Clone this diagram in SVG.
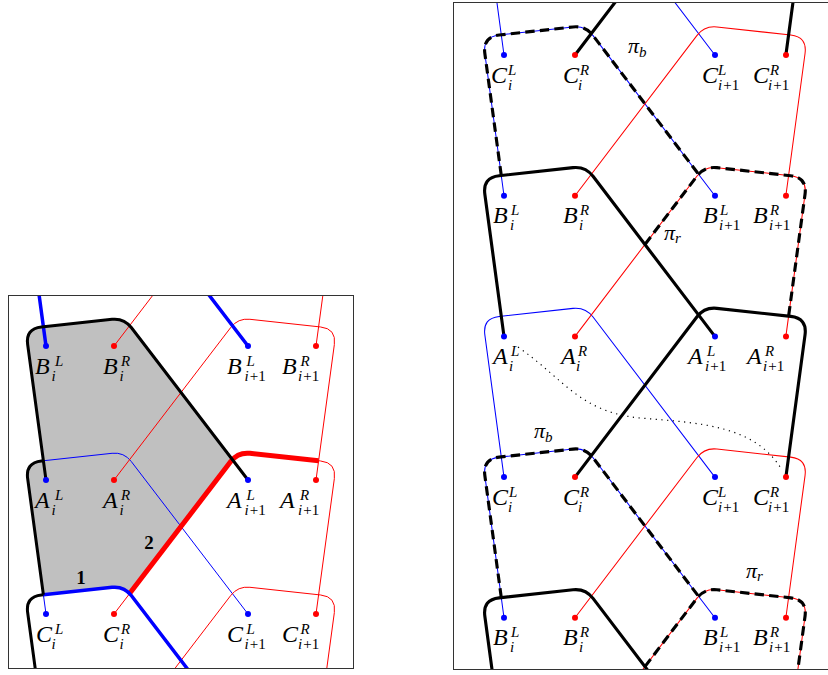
<svg xmlns="http://www.w3.org/2000/svg" xmlns:xlink="http://www.w3.org/1999/xlink" width="828" height="675" viewBox="0 0 828 675">
<style>
.tnb{fill:none;stroke:#0000ff;stroke-width:1}
.tnr{fill:none;stroke:#ff0000;stroke-width:1}
.blk{fill:none;stroke:#000;stroke-width:3;stroke-linejoin:round}
.tb{fill:none;stroke:#0000ff;stroke-width:3.5;stroke-linejoin:round}
.tr{fill:none;stroke:#ff0000;stroke-width:5;stroke-linejoin:round}
.dsh{fill:none;stroke:#000;stroke-width:3;stroke-dasharray:9 5}
.dotted{fill:none;stroke:#000;stroke-width:1.2;stroke-dasharray:1.2 4.5}
.gray{fill:#c0c0c0;stroke:none}
.frame{fill:none;stroke:#333;stroke-width:1}
.db{fill:#0000ff}
.dr{fill:#ff0000}
.lb{font-family:"Liberation Serif",serif;font-style:italic;font-size:24px;fill:#000}
.s{font-size:15px}
.up{font-style:normal}
.pi{font-size:22px}
.num{font-family:"Liberation Serif",serif;font-weight:bold;font-size:19px;text-anchor:middle}
</style>
<defs>
<clipPath id="clipL"><rect x="8.5" y="295.5" width="345" height="373"/></clipPath>
<clipPath id="clipR"><rect x="453.5" y="2.5" width="380" height="667"/></clipPath>
<path id="bcell" d="M 0,134 L -18.35,-1.445 Q -20.5,-17.3 -4.594,-19.03 L 66.07,-26.704 Q 78,-28 85.294,-18.471 L 202,134"/>
<path id="rcell" d="M 270,134 L 288.35,-1.445 Q 290.5,-17.3 274.594,-19.03 L 203.93,-26.704 Q 192,-28 184.706,-18.471 L 68,134"/>
<path id="pib" d="M -2.6,114.75 L -18.35,-1.445 Q -20.5,-17.3 -4.594,-19.03 L 66.07,-26.704 Q 78,-28 85.294,-18.471 L 186.4,113.6"/>
<path id="pir" d="M 135,46.47 L 184.706,-18.471 Q 192,-28 203.93,-26.704 L 274.594,-19.03 Q 290.5,-17.3 288.35,-1.445 L 272.6,114.75"/>
</defs>
<rect x="0" y="0" width="828" height="675" fill="#fff"/>

<!-- LEFT PANEL -->
<g id="left-connectors" clip-path="url(#clipL)">
<g transform="translate(46,346)">
<path class="gray" d="M -2.6,114.75 L -18.35,-1.445 Q -20.5,-17.3 -4.594,-19.03 L 66.07,-26.704 Q 78,-28 85.294,-18.471 L 186.4,113.6 Q 185.51,114.48 184.706,115.529 L 83.6,247.6 Q 76.69,240.14 66.07,241.296 L -2.6,248.75 L -18.35,132.555 Q -20.5,116.7 -4.594,114.97 Z"/>
<use href="#bcell" class="tnb" y="-134"/>
<use href="#bcell" class="tnb" y="0"/>
<use href="#bcell" class="tnb" y="134"/>
<use href="#bcell" class="tnb" y="268"/>
<use href="#rcell" class="tnr" y="-134"/>
<use href="#rcell" class="tnr" y="0"/>
<use href="#rcell" class="tnr" y="134"/>
<use href="#rcell" class="tnr" y="268"/>
<path class="tr" d="M 83.6,247.6 L 184.706,115.529 Q 192,106 203.93,107.296 L 272.6,114.75"/>
<use href="#bcell" class="tb" y="-134"/>
<path class="tb" d="M -2.6,248.75 L 66.07,241.296 Q 78,240 85.294,249.529 L 202,402"/>
<use href="#bcell" class="blk" y="0"/>
<path class="blk" d="M -2.6,248.75 L -18.35,132.555 Q -20.5,116.7 -4.594,114.97 L -2.6,114.75"/>
<path class="blk" d="M -2.6,248.75 L -4.594,248.97 Q -20.5,250.7 -18.35,266.555 L 0,402"/>
</g>
</g>
<rect class="frame" x="8.5" y="295.5" width="345" height="373"/>
<text class="num" x="81" y="584">1</text>
<text class="num" x="149" y="549">2</text>

<g id="l-BiL"><circle class="db" cx="46" cy="346" r="3"/><text class="lb" x="35" y="374">B<tspan class="s" x="55" y="366">L</tspan><tspan class="s" x="51.5" y="381">i</tspan></text></g>
<g id="l-BiR"><circle class="dr" cx="114" cy="346" r="3"/><text class="lb" x="103" y="374">B<tspan class="s" x="121" y="366">R</tspan><tspan class="s" x="119.5" y="381">i</tspan></text></g>
<g id="l-Bi1L"><circle class="db" cx="248" cy="346" r="3"/><text class="lb" x="227" y="374">B<tspan class="s" x="246.5" y="366">L</tspan><tspan class="s" x="244.5" y="381">i<tspan class="up" dx="1">+1</tspan></tspan></text></g>
<g id="l-Bi1R"><circle class="dr" cx="316" cy="346" r="3"/><text class="lb" x="282" y="374">B<tspan class="s" x="300.5" y="366">R</tspan><tspan class="s" x="298" y="381">i<tspan class="up" dx="1">+1</tspan></tspan></text></g>

<g id="l-AiL"><circle class="db" cx="46" cy="480" r="3"/><text class="lb" x="35" y="508">A<tspan class="s" x="55" y="500">L</tspan><tspan class="s" x="51.5" y="515">i</tspan></text></g>
<g id="l-AiR"><circle class="dr" cx="114" cy="480" r="3"/><text class="lb" x="103" y="508">A<tspan class="s" x="121" y="500">R</tspan><tspan class="s" x="119.5" y="515">i</tspan></text></g>
<g id="l-Ai1L"><circle class="db" cx="248" cy="480" r="3"/><text class="lb" x="227" y="508">A<tspan class="s" x="246.5" y="500">L</tspan><tspan class="s" x="244.5" y="515">i<tspan class="up" dx="1">+1</tspan></tspan></text></g>
<g id="l-Ai1R"><circle class="dr" cx="316" cy="480" r="3"/><text class="lb" x="280" y="508">A<tspan class="s" x="300" y="500">R</tspan><tspan class="s" x="298" y="515">i<tspan class="up" dx="1">+1</tspan></tspan></text></g>

<g id="l-CiL"><circle class="db" cx="46" cy="614" r="3"/><text class="lb" x="36" y="642">C<tspan class="s" x="55" y="634">L</tspan><tspan class="s" x="51.5" y="649">i</tspan></text></g>
<g id="l-CiR"><circle class="dr" cx="114" cy="614" r="3"/><text class="lb" x="103" y="642">C<tspan class="s" x="121" y="634">R</tspan><tspan class="s" x="119.5" y="649">i</tspan></text></g>
<g id="l-Ci1L"><circle class="db" cx="248" cy="614" r="3"/><text class="lb" x="227" y="642">C<tspan class="s" x="246.5" y="634">L</tspan><tspan class="s" x="244.5" y="649">i<tspan class="up" dx="1">+1</tspan></tspan></text></g>
<g id="l-Ci1R"><circle class="dr" cx="316" cy="614" r="3"/><text class="lb" x="282" y="642">C<tspan class="s" x="300.5" y="634">R</tspan><tspan class="s" x="298" y="649">i<tspan class="up" dx="1">+1</tspan></tspan></text></g>

<!-- RIGHT PANEL -->
<g id="right-connectors" clip-path="url(#clipR)">
<g transform="translate(504,55) scale(1.044,1.05)">
<use href="#bcell" class="tnb" y="-134"/>
<use href="#bcell" class="tnb" y="0"/>
<use href="#bcell" class="tnb" y="134"/>
<use href="#bcell" class="tnb" y="268"/>
<use href="#bcell" class="tnb" y="402"/>
<use href="#bcell" class="tnb" y="536"/>
<use href="#rcell" class="tnr" y="-134"/>
<use href="#rcell" class="tnr" y="0"/>
<use href="#rcell" class="tnr" y="134"/>
<use href="#rcell" class="tnr" y="268"/>
<use href="#rcell" class="tnr" y="402"/>
<use href="#rcell" class="tnr" y="536"/>
<use href="#rcell" class="blk" y="-134"/>
<use href="#bcell" class="blk" y="134"/>
<use href="#rcell" class="blk" y="268"/>
<use href="#bcell" class="blk" y="536"/>
<use href="#pib" class="dsh" y="0"/>
<use href="#pir" class="dsh" y="134"/>
<use href="#pib" class="dsh" y="402"/>
<use href="#pir" class="dsh" y="536"/>
</g>
<path class="dotted" d="M 518,347 C 565,380 580,412 640,418 C 700,423 755,425 782,470"/>
</g>
<rect class="frame" x="453.5" y="2.5" width="380" height="667"/>

<text class="lb pi" x="628" y="53">π<tspan class="s" y="57">b</tspan></text>
<text class="lb pi" x="534" y="438">π<tspan class="s" y="442">b</tspan></text>
<text class="lb pi" x="664" y="240">π<tspan class="s" y="243">r</tspan></text>
<text class="lb pi" x="746" y="578">π<tspan class="s" y="581">r</tspan></text>

<g id="r-CiL-top"><circle class="db" cx="504" cy="55" r="3"/><text class="lb" x="491" y="82.5">C<tspan class="s" x="508" y="74.5">L</tspan><tspan class="s" x="508" y="89.5">i</tspan></text></g>
<g id="r-CiR-top"><circle class="dr" cx="575" cy="55" r="3"/><text class="lb" x="563" y="82.5">C<tspan class="s" x="580" y="74.5">R</tspan><tspan class="s" x="578" y="89.5">i</tspan></text></g>
<g id="r-Ci1L-top"><circle class="db" cx="715" cy="55" r="3"/><text class="lb" x="702" y="82.5">C<tspan class="s" x="718" y="74.5">L</tspan><tspan class="s" x="718" y="89.5">i<tspan class="up" dx="1">+1</tspan></tspan></text></g>
<g id="r-Ci1R-top"><circle class="dr" cx="786" cy="55" r="3"/><text class="lb" x="753" y="82.5">C<tspan class="s" x="770" y="74.5">R</tspan><tspan class="s" x="768" y="89.5">i<tspan class="up" dx="1">+1</tspan></tspan></text></g>

<g id="r-BiL-top"><circle class="db" cx="504" cy="195.7" r="3"/><text class="lb" x="493" y="223">B<tspan class="s" x="511" y="215">L</tspan><tspan class="s" x="510" y="230">i</tspan></text></g>
<g id="r-BiR-top"><circle class="dr" cx="575" cy="195.7" r="3"/><text class="lb" x="563" y="223">B<tspan class="s" x="580" y="215">R</tspan><tspan class="s" x="579" y="230">i</tspan></text></g>
<g id="r-Bi1L-top"><circle class="db" cx="715" cy="195.7" r="3"/><text class="lb" x="703" y="223">B<tspan class="s" x="720" y="215">L</tspan><tspan class="s" x="719" y="230">i<tspan class="up" dx="1">+1</tspan></tspan></text></g>
<g id="r-Bi1R-top"><circle class="dr" cx="786" cy="195.7" r="3"/><text class="lb" x="753" y="223">B<tspan class="s" x="770" y="215">R</tspan><tspan class="s" x="769" y="230">i<tspan class="up" dx="1">+1</tspan></tspan></text></g>

<g id="r-AiL"><circle class="db" cx="504" cy="336.4" r="3"/><text class="lb" x="493" y="364">A<tspan class="s" x="511" y="356">L</tspan><tspan class="s" x="509" y="371">i</tspan></text></g>
<g id="r-AiR"><circle class="dr" cx="575" cy="336.4" r="3"/><text class="lb" x="561" y="364">A<tspan class="s" x="578" y="356">R</tspan><tspan class="s" x="576" y="371">i</tspan></text></g>
<g id="r-Ai1L"><circle class="db" cx="715" cy="336.4" r="3"/><text class="lb" x="688" y="364">A<tspan class="s" x="707" y="356">L</tspan><tspan class="s" x="705" y="371">i<tspan class="up" dx="1">+1</tspan></tspan></text></g>
<g id="r-Ai1R"><circle class="dr" cx="786" cy="336.4" r="3"/><text class="lb" x="747" y="364">A<tspan class="s" x="765" y="356">R</tspan><tspan class="s" x="763" y="371">i<tspan class="up" dx="1">+1</tspan></tspan></text></g>

<g id="r-CiL-low"><circle class="db" cx="504" cy="477.1" r="3"/><text class="lb" x="492" y="504.5">C<tspan class="s" x="509" y="496.5">L</tspan><tspan class="s" x="508" y="511.5">i</tspan></text></g>
<g id="r-CiR-low"><circle class="dr" cx="575" cy="477.1" r="3"/><text class="lb" x="563" y="504.5">C<tspan class="s" x="580" y="496.5">R</tspan><tspan class="s" x="578" y="511.5">i</tspan></text></g>
<g id="r-Ci1L-low"><circle class="db" cx="715" cy="477.1" r="3"/><text class="lb" x="702" y="504.5">C<tspan class="s" x="718" y="496.5">L</tspan><tspan class="s" x="718" y="511.5">i<tspan class="up" dx="1">+1</tspan></tspan></text></g>
<g id="r-Ci1R-low"><circle class="dr" cx="786" cy="477.1" r="3"/><text class="lb" x="753" y="504.5">C<tspan class="s" x="770" y="496.5">R</tspan><tspan class="s" x="768" y="511.5">i<tspan class="up" dx="1">+1</tspan></tspan></text></g>

<g id="r-BiL-low"><circle class="db" cx="504" cy="617.8" r="3"/><text class="lb" x="493" y="645">B<tspan class="s" x="511" y="637">L</tspan><tspan class="s" x="510" y="652">i</tspan></text></g>
<g id="r-BiR-low"><circle class="dr" cx="575" cy="617.8" r="3"/><text class="lb" x="563" y="645">B<tspan class="s" x="580" y="637">R</tspan><tspan class="s" x="579" y="652">i</tspan></text></g>
<g id="r-Bi1L-low"><circle class="db" cx="715" cy="617.8" r="3"/><text class="lb" x="703" y="645">B<tspan class="s" x="720" y="637">L</tspan><tspan class="s" x="719" y="652">i<tspan class="up" dx="1">+1</tspan></tspan></text></g>
<g id="r-Bi1R-low"><circle class="dr" cx="786" cy="617.8" r="3"/><text class="lb" x="753" y="645">B<tspan class="s" x="770" y="637">R</tspan><tspan class="s" x="769" y="652">i<tspan class="up" dx="1">+1</tspan></tspan></text></g>
</svg>
